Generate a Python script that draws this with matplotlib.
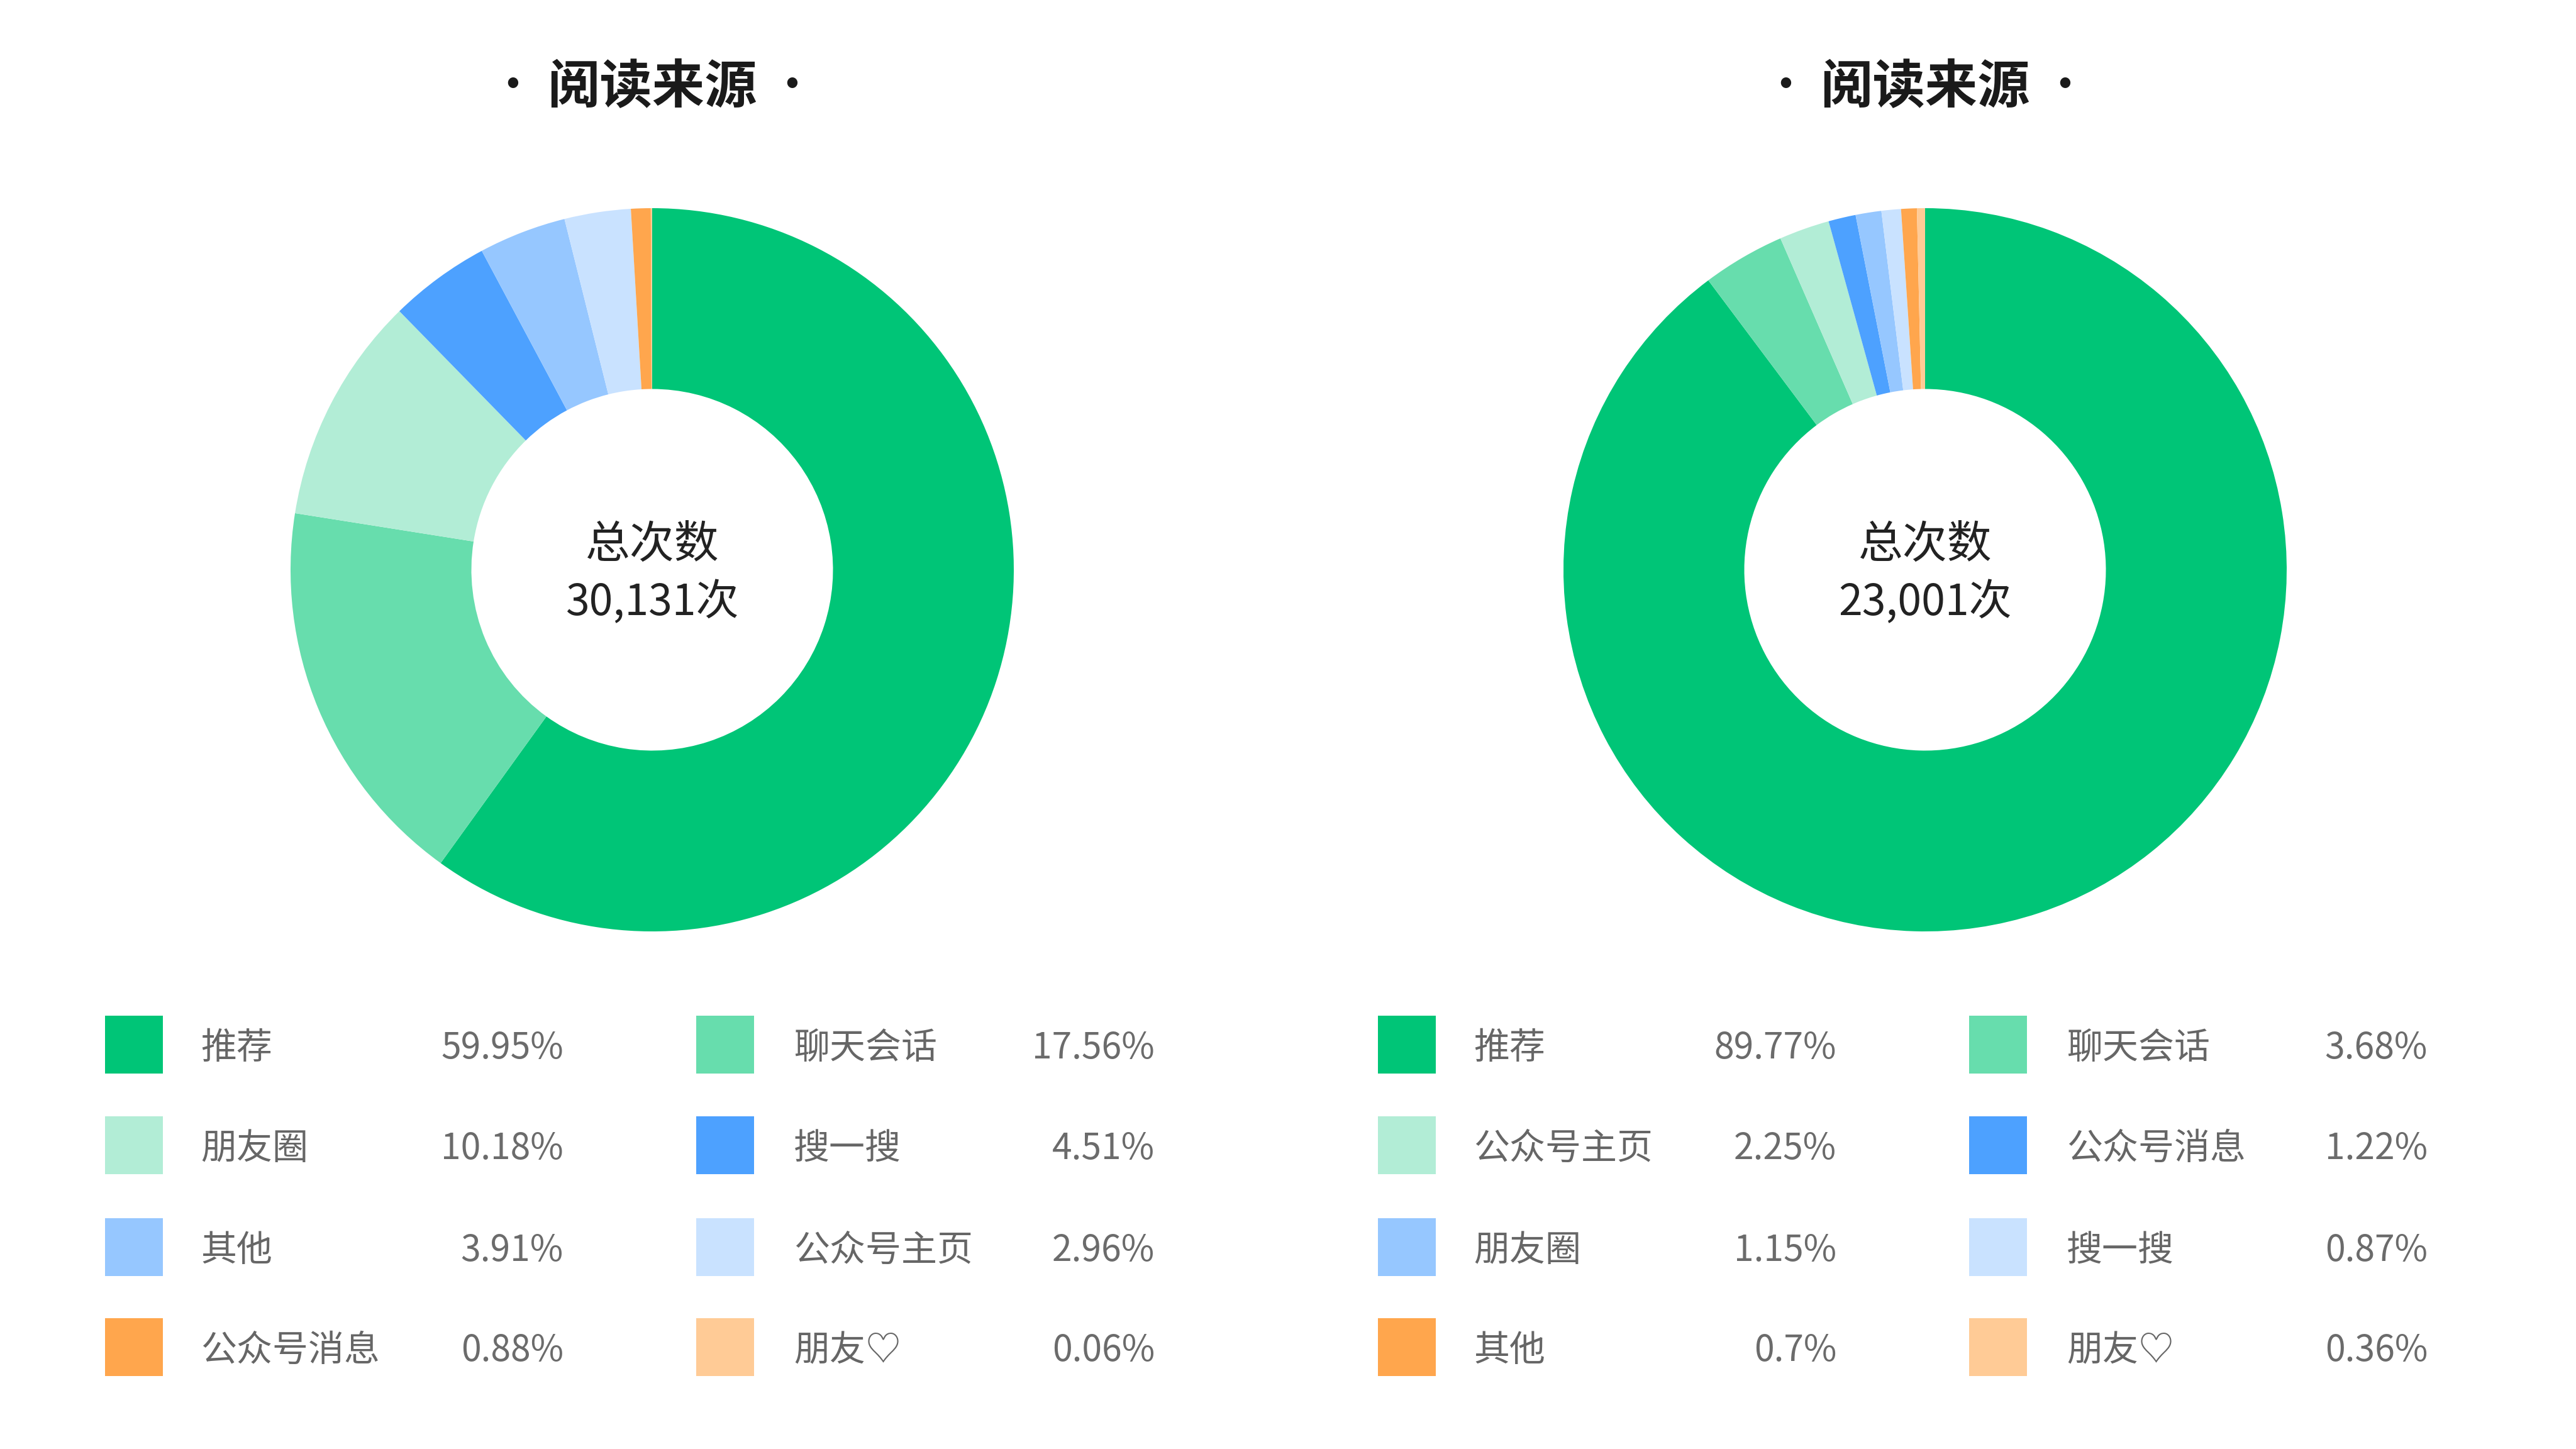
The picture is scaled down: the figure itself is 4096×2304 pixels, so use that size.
import matplotlib
matplotlib.use("Agg")
import matplotlib.pyplot as plt
from matplotlib.patches import Rectangle

plt.rcParams['font.family'] = ['Noto Sans CJK SC', 'DejaVu Sans']

# ---------------- data ----------------
title_text = "阅读来源"
center_label = "总次数"

left_categories = ["推荐", "聊天会话", "朋友圈", "搜一搜", "其他", "公众号主页", "公众号消息", "朋友♡"]
left_values = [59.95, 17.56, 10.18, 4.51, 3.91, 2.96, 0.88, 0.06]
left_pct_labels = ["59.95%", "17.56%", "10.18%", "4.51%", "3.91%", "2.96%", "0.88%", "0.06%"]
left_total = "30,131次"

right_categories = ["推荐", "聊天会话", "公众号主页", "公众号消息", "朋友圈", "搜一搜", "其他", "朋友♡"]
right_values = [89.77, 3.68, 2.25, 1.22, 1.15, 0.87, 0.7, 0.36]
right_pct_labels = ["89.77%", "3.68%", "2.25%", "1.22%", "1.15%", "0.87%", "0.7%", "0.36%"]
right_total = "23,001次"

colors = ["#00C577", "#67DDAD", "#B2EDD6", "#4DA1FF", "#96C7FF", "#C9E2FF", "#FFA64D", "#FFCB96"]

# ---------------- layout (pixels, top-origin) ----------------
W, H = 4096, 2304
fig = plt.figure(figsize=(W / 100, H / 100), dpi=100)
fig.patch.set_facecolor("white")

R_px = 575
centers_x = [1037, 3061]
center_y = 906

overlay = fig.add_axes([0, 0, 1, 1])
overlay.set_xlim(0, W)
overlay.set_ylim(H, 0)
overlay.axis("off")

panels = [
    (left_categories, left_values, left_pct_labels, left_total),
    (right_categories, right_values, right_pct_labels, right_total),
]

row_y = [1661, 1821, 1983, 2142]
sq = 92
# offsets relative to panel center x
col_sq_x = [-870, 70]
col_lab_x = [-718, 225]
col_pct_x = [-141, 799]

for p, (cats, vals, pcts, total) in enumerate(panels):
    cx = centers_x[p]
    ax = fig.add_axes([(cx - R_px) / W, (H - center_y - R_px) / H, 2 * R_px / W, 2 * R_px / H])
    ax.pie(vals, colors=colors, startangle=90, counterclock=False, radius=1.0,
           wedgeprops=dict(width=0.5, linewidth=0))
    ax.set_xlim(-1, 1)
    ax.set_ylim(-1, 1)
    ax.set_aspect("equal")
    ax.axis("off")

    # title
    overlay.text(cx, 139, title_text, ha="center", va="center", fontsize=60,
                 fontweight="bold", color="#1a1a1a")
    for sgn in (-1, 1):
        overlay.text(cx + sgn * 222, 137, "·", ha="center", va="center", fontsize=46,
                     fontweight="bold", color="#1a1a1a")

    # center text
    overlay.text(cx, 867, center_label, ha="center", va="center", fontsize=51, color="#222222")
    overlay.text(cx, 959, total, ha="center", va="center", fontsize=49, color="#222222")

    # legend
    for i, (c, v, pl) in enumerate(zip(cats, vals, pcts)):
        r, col = divmod(i, 2)
        y = row_y[r]
        overlay.add_patch(Rectangle((cx + col_sq_x[col], y - sq / 2), sq, sq,
                                    facecolor=colors[i], edgecolor="none"))
        overlay.text(cx + col_lab_x[col], y + 6, c, ha="left", va="center", fontsize=41,
                     color="#666666")
        overlay.text(cx + col_pct_x[col], y + 6, pl, ha="right", va="center", fontsize=41,
                     color="#6b6b6b")

fig.savefig("out.png", dpi=100, facecolor="white")
